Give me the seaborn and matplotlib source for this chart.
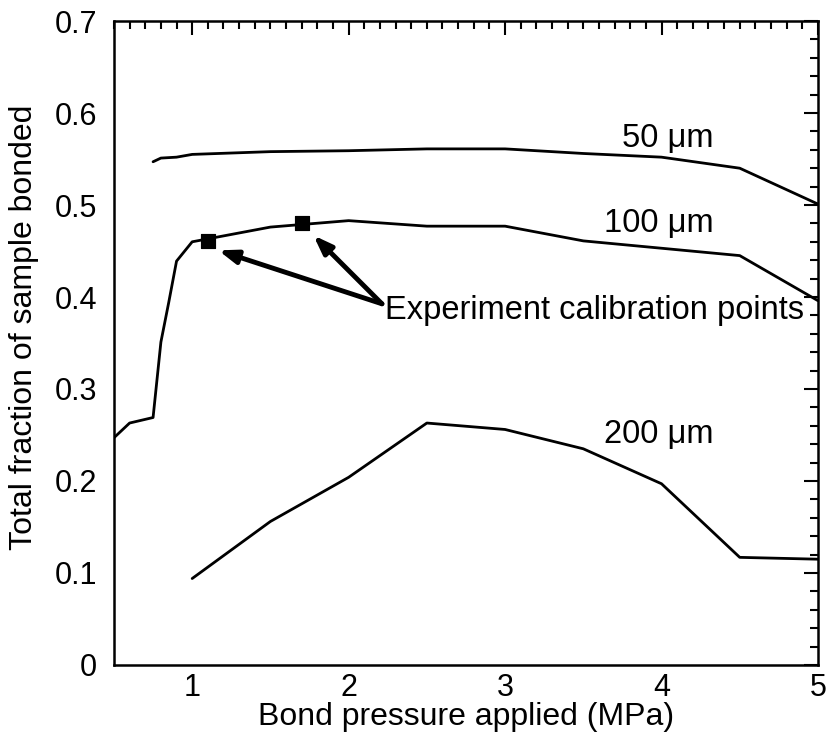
import numpy as np
import pandas as pd
import seaborn as sns
import matplotlib.pyplot as plt
from matplotlib.ticker import MultipleLocator

# values
x_50 = [0.75, 0.8, 0.9, 1.0, 1.5, 2.0, 2.5, 3.0, 3.5, 4.0, 4.5, 5.0]
y_50 = [0.547, 0.551, 0.552, 0.555, 0.558, 0.559, 0.561, 0.561, 0.556, 0.552, 0.540, 0.501]

x_100 = [0.5, 0.6, 0.75, 0.8, 0.85, 0.9, 1.0, 1.5, 2.0, 2.5, 3.0, 3.5, 4.0, 4.5, 5.0]
y_100 = [0.247, 0.263, 0.269, 0.351, 0.394, 0.439, 0.460, 0.476, 0.483, 0.477, 0.477, 0.461, 0.453, 0.445, 0.396]

x_200 = [1.0, 1.5, 2.0, 2.5, 3.0, 3.5, 4.0, 4.5, 5.0]
y_200 = [0.094, 0.156, 0.204, 0.263, 0.256, 0.235, 0.197, 0.117, 0.115]

calib_x = [1.1, 1.7]
calib_y = [0.461, 0.480]

curve_labels = ['50 \u03bcm', '100 \u03bcm', '200 \u03bcm']
label_y = [0.5725, 0.480, 0.250]

sns.set_style('white')
plt.rcParams['font.family'] = ['Liberation Sans', 'DejaVu Sans']
plt.rcParams['text.color'] = 'black'
plt.rcParams['axes.labelcolor'] = 'black'

fig = plt.figure(figsize=(8.3, 7.37), dpi=100)
ax = fig.add_axes([0.1373, 0.0977, 0.8482, 0.8738])

for xs, ys in [(x_50, y_50), (x_100, y_100), (x_200, y_200)]:
    df = pd.DataFrame({'x': xs, 'y': ys})
    sns.lineplot(data=df, x='x', y='y', ax=ax, color='black', lw=2.0,
                 sort=False, estimator=None)

sns.scatterplot(x=calib_x, y=calib_y, ax=ax, marker='s', s=110, color='black',
                edgecolor='black', zorder=5)

for lab, ly in zip(curve_labels, label_y):
    ax.text(4.33, ly, lab, ha='right', va='center', fontsize=23.5, color='black')

# arrows from the caption to the calibration points
tail = (2.213, 0.3926)
for hx, hy in [(1.167, 0.4507), (1.775, 0.467)]:
    ax.annotate('', xy=(hx, hy), xytext=tail,
                arrowprops=dict(arrowstyle='-|>,head_length=1.1,head_width=0.4',
                                color='black', lw=3.5, shrinkA=0, shrinkB=0))
ax.text(2.234, 0.385, 'Experiment calibration points', ha='left', va='center',
        fontsize=23.5, color='black')

ax.set_xlim(0.5, 5)
ax.set_ylim(0, 0.7)
ax.xaxis.set_major_locator(MultipleLocator(1))
ax.xaxis.set_minor_locator(MultipleLocator(0.1))
ax.yaxis.set_major_locator(MultipleLocator(0.1))
ax.yaxis.set_minor_locator(MultipleLocator(0.02))
ax.set_xticks([1, 2, 3, 4, 5])
ax.set_xticklabels(['1', '2', '3', '4', '5'])
ax.set_yticks([0, 0.1, 0.2, 0.3, 0.4, 0.5, 0.6, 0.7])
ax.set_yticklabels(['0', '0.1', '0.2', '0.3', '0.4', '0.5', '0.6', '0.7'])
ax.tick_params(which='both', direction='in', top=True, right=True, width=1.5,
               colors='black', labelcolor='black')
ax.tick_params(which='major', length=10, labelsize=22)
ax.tick_params(axis='x', which='major', pad=6)
ax.tick_params(axis='y', which='major', pad=12)
ax.tick_params(which='minor', length=5.5)
for sp in ax.spines.values():
    sp.set_linewidth(1.8)
    sp.set_color('black')

ax.set_xlabel('Bond pressure applied (MPa)', fontsize=23, labelpad=-1)
ax.set_ylabel('Total fraction of sample bonded', fontsize=23, labelpad=4)
ax.yaxis.set_label_coords(-0.106, 0.525)

fig.savefig('out.png', dpi=100)
